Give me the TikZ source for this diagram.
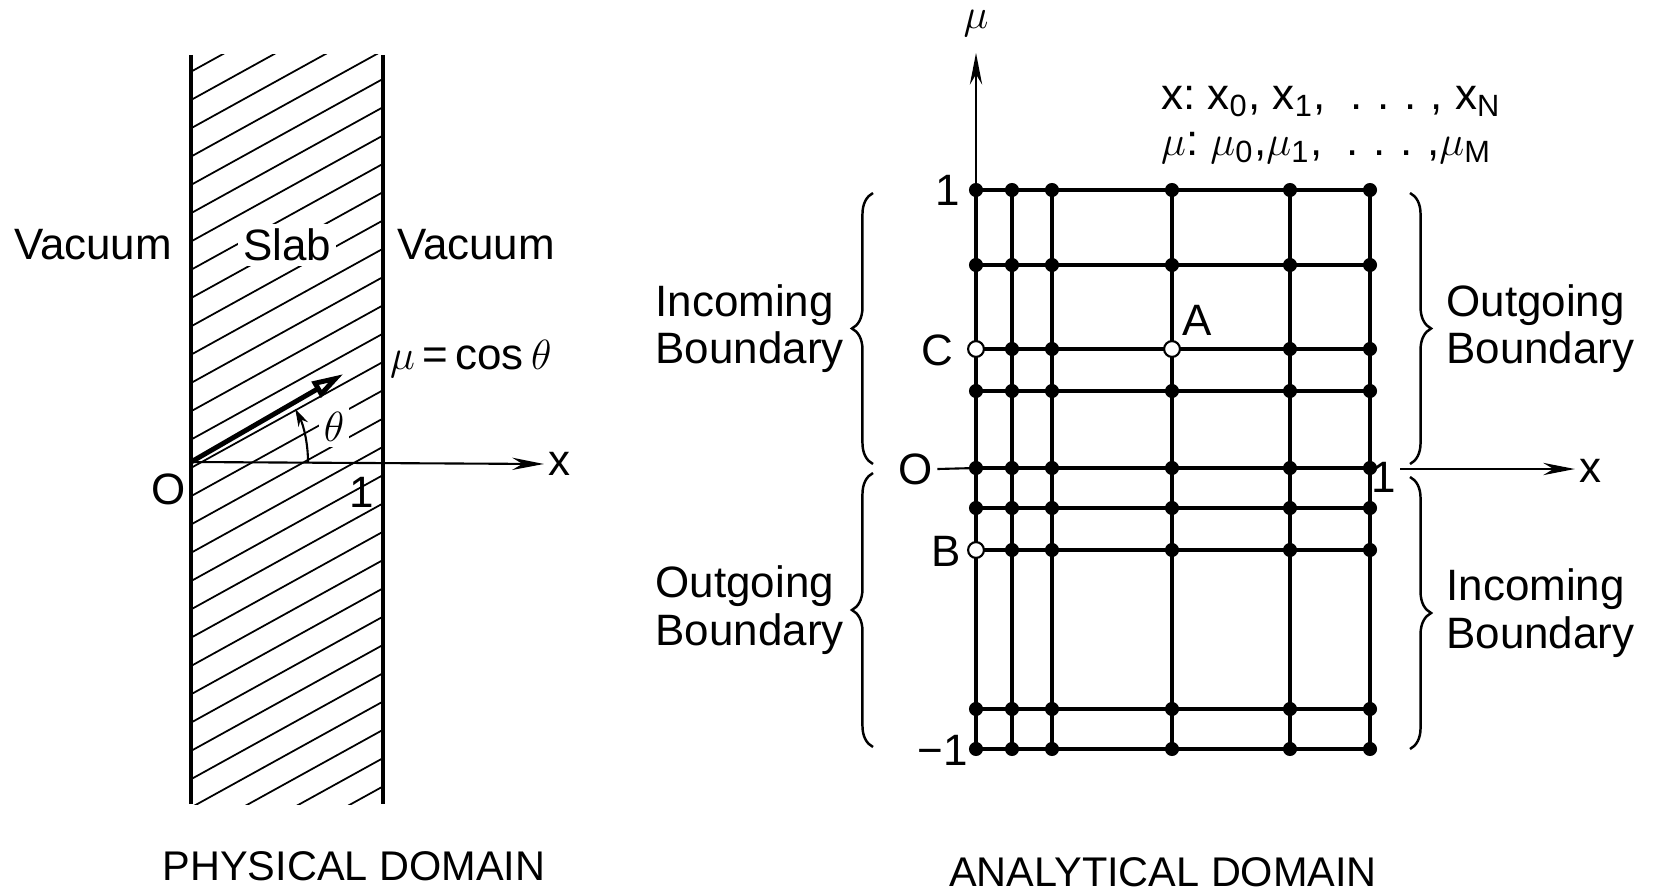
\documentclass[tikz,border=0pt]{standalone}
\usepackage{fontspec}
\setmainfont{Liberation Sans}
\usepackage{tikz}
\usetikzlibrary{positioning, arrows.meta, decorations.pathreplacing}

\begin{document}
\begin{tikzpicture}[
  every node/.style={font=\fontsize{12.5}{13.5}\selectfont},
  lbl/.style={inner sep=1pt, align=left},
  cutout/.style={fill=white, inner sep=1.5pt},
  slabedge/.style={line width=0.9pt},
  hatchline/.style={line width=0.5pt},
  axisline/.style={line width=0.6pt},
  axisarrow/.style={-{Stealth[length=9pt, width=3.5pt]}, line width=0.6pt},
  dirvec/.style={-{Triangle[open, length=9pt, width=5pt]}, line width=1.4pt},
  anglearc/.style={-{Stealth[length=5pt, width=3pt]}, line width=0.6pt},
  gridline/.style={line width=0.9pt},
  gridpt/.style={circle, fill, inner sep=0pt, minimum size=4pt},
  openpt/.style={circle, draw, fill=white, line width=0.6pt, inner sep=0pt, minimum size=4.5pt},
  bracel/.style={decorate, decoration={brace, amplitude=6pt}, line width=0.7pt},
  domtitle/.style={font=\fontsize{11.8}{14}\selectfont},
]
\useasboundingbox (0,0) rectangle (16.55,8.94);

% Physical domain: slab
\begin{scope}
  \clip (1.91,0.90) rectangle (3.83,8.39);
  \foreach \k in {-3,...,30}
    \draw[hatchline] (1.91,7.94-0.283*\k) -- ++(1.92,1.06);
\end{scope}
\draw[slabedge] (1.91,8.39) -- (1.91,0.90);
\draw[slabedge] (3.83,8.39) -- (3.83,0.90);

\coordinate (O1) at (1.91,4.32);
\node[lbl] (xlab1) at (5.59,4.30) {x};
\draw[axisarrow] (O1) -- (xlab1.west);
\node[lbl] (olab1) at (1.69,4.05) {O};
\node[lbl] (onelab1) at (3.62,4.02) {1};

% Direction vector and angle
\path (O1) ++(30:1.76) coordinate (vtip);
\draw[dirvec] (O1) -- (vtip);
\path (O1) ++(1.17,0) coordinate (arcstart);
\draw[anglearc] (arcstart) arc[start angle=0, end angle=27, radius=1.17];
\node[lbl, cutout] (thetalab) at (3.34,4.67) {$\theta$};

\node[lbl] (vacl) at (0.93,6.49) {Vacuum};
\node[lbl, cutout] (slablab) at (2.87,6.49) {Slab};
\node[lbl] (vacr) at (4.76,6.49) {Vacuum};
\node[lbl, anchor=west] (mucos) at (3.86,5.35) {$\mu$\,=\,cos\,$\theta$};

\node[domtitle] (phystitle) at (3.54,0.28) {PHYSICAL DOMAIN};

% Analytical domain: grid points
\foreach \x [count=\i] in {9.76,10.12,10.52,11.72,12.90,13.70}
  \foreach \y [count=\j] in {7.04,6.29,5.45,5.03,4.26,3.86,3.44,1.85,1.45}
    \coordinate (g-\i-\j) at (\x,\y);

% Axes
\coordinate (mutop) at (9.76,8.41);
\draw[axisarrow] (g-1-9) -- (mutop);
\node[lbl] (mulab) at (9.76,8.70) {$\mu$};
\node[lbl] (olab2) at (9.16,4.25) {O};
\draw[axisline] (olab2.east) -- (g-1-5);
\node[lbl] (onelab2) at (13.84,4.17) {1};
\coordinate (xs2) at (14.00,4.25);
\node[lbl] (xlab2) at (15.90,4.23) {x};
\draw[axisarrow] (xs2) -- (xlab2.west |- xs2);

% Grid lines
\foreach \i in {1,...,6}
  \draw[gridline] (g-\i-1) -- (g-\i-9);
\foreach \j in {1,...,9}
  \draw[gridline] (g-1-\j) -- (g-6-\j);
\foreach \i in {1,...,6}
  \foreach \j in {1,...,9}
    \node[gridpt] (d-\i-\j) at (g-\i-\j) {};
\node[openpt] (ptC) at (g-1-3) {};
\node[openpt] (ptA) at (g-4-3) {};
\node[openpt] (ptB) at (g-1-7) {};

\node[lbl] (mutoplab) at (9.48,7.04) {1};
\node[lbl] (mubotlab) at (9.43,1.44) {−1};
\node[lbl] (clab) at (9.37,5.44) {C};
\node[lbl] (blab) at (9.46,3.43) {B};
\node[lbl] (alab) at (11.97,5.74) {A};

\node[lbl, anchor=west] (xlist) at (11.57,7.92)
  {x:~x\textsubscript{0}, x\textsubscript{1},~~.\,\,.\,\,.\,\,,~x\textsubscript{N}};
\node[lbl, anchor=west] (mulist) at (11.57,7.46)
  {$\mu$:~$\mu$\textsubscript{0},$\mu$\textsubscript{1},~~.\,\,.\,\,.\,\,,$\mu$\textsubscript{M}};

% Boundary braces
\coordinate (lbu-t) at (8.73,7.01);
\coordinate (lbu-b) at (8.73,4.30);
\coordinate (lbl-t) at (8.73,4.21);
\coordinate (lbl-b) at (8.73,1.47);
\coordinate (rbu-t) at (14.10,7.01);
\coordinate (rbu-b) at (14.10,4.30);
\coordinate (rbl-t) at (14.10,4.17);
\coordinate (rbl-b) at (14.10,1.45);
\draw[bracel] (lbu-b) -- (lbu-t)
  node[lbl, midway, left=7pt] (inleft) {Incoming\\Boundary};
\draw[bracel] (lbl-b) -- (lbl-t)
  node[lbl, midway, left=7pt] (outleft) {Outgoing\\Boundary};
\draw[bracel] (rbu-t) -- (rbu-b)
  node[lbl, midway, right=9pt] (outright) {Outgoing\\Boundary};
\draw[bracel] (rbl-t) -- (rbl-b)
  node[lbl, midway, right=9pt] (inright) {Incoming\\Boundary};

\node[domtitle] (anatitle) at (11.63,0.22) {ANALYTICAL DOMAIN};

\end{tikzpicture}
\end{document}
